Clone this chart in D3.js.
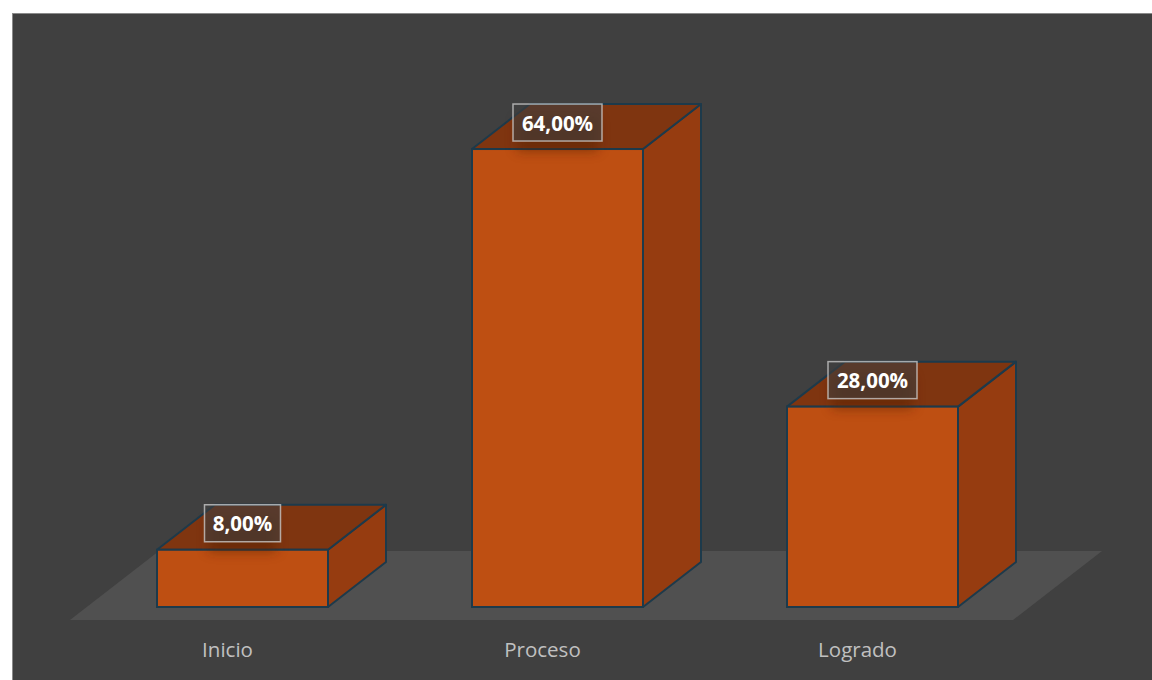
<!DOCTYPE html>
<html><head><meta charset="utf-8">
<script src="https://cdn.jsdelivr.net/npm/d3@7"></script>
<style>html,body{margin:0;padding:0;background:#fff;}svg{display:block;}</style>
</head><body>
<script>
const categories = ["Inicio", "Proceso", "Logrado"];
const values = [8, 64, 28];
const valueLabels = ["8,00%", "64,00%", "28,00%"];

const W = 1152, H = 680;
const svg = d3.select("body").append("svg").attr("width", W).attr("height", H);

const defs = svg.append("defs");
const blur = defs.append("filter").attr("id", "sh").attr("x", "-50%").attr("y", "-50%").attr("width", "200%").attr("height", "200%");
blur.append("feGaussianBlur").attr("stdDeviation", 6);

// chart background
svg.append("rect").attr("x", 12.5).attr("y", 13.5).attr("width", W - 12).attr("height", H - 13)
  .attr("fill", "#404040").attr("stroke", "#8a8a8a").attr("stroke-width", 1);

const x = d3.scaleBand().domain(categories).range([85, 1030])
  .paddingInner(144 / 315).paddingOuter(72 / 315);
const y = d3.scaleLinear().domain([0, 70]).range([607, 106.1]);

const dx = 58, dy = -45;        // bar depth
const fdx = 89, fdy = -69;      // floor depth
const floorY = 620, floorX0 = 70, floorX1 = 1013;

// floor
svg.append("path")
  .attr("d", `M${floorX0},${floorY} L${floorX1},${floorY} L${floorX1 + fdx},${floorY + fdy} L${floorX0 + fdx},${floorY + fdy} Z`)
  .attr("fill", "#505050");

const stroke = "#1d3a4b";
const g = svg.append("g");
categories.forEach((c, i) => {
  const x0 = x(c), x1 = x0 + x.bandwidth();
  const yb = y(0), yt = y(values[i]);
  const bg = g.append("g");
  // side
  bg.append("path")
    .attr("d", `M${x1},${yb} L${x1 + dx},${yb + dy} L${x1 + dx},${yt + dy} L${x1},${yt} Z`)
    .attr("fill", "#963c10").attr("stroke", stroke).attr("stroke-width", 2).attr("stroke-linejoin", "round");
  // top
  bg.append("path")
    .attr("d", `M${x0},${yt} L${x1},${yt} L${x1 + dx},${yt + dy} L${x0 + dx},${yt + dy} Z`)
    .attr("fill", "#7f3510").attr("stroke", stroke).attr("stroke-width", 2).attr("stroke-linejoin", "round");
  // front
  bg.append("rect").attr("x", x0).attr("y", yt).attr("width", x1 - x0).attr("height", yb - yt)
    .attr("fill", "#be4f12").attr("stroke", stroke).attr("stroke-width", 2);
});

// data labels
categories.forEach((c, i) => {
  const cx = x(c) + x.bandwidth() / 2;
  const top = y(values[i]) + dy;
  const w = valueLabels[i].length > 5 ? 89 : 76, h = 37;
  svg.append("rect").attr("x", cx - w / 2 + 4).attr("y", top + 14).attr("width", w - 8).attr("height", h - 4)
    .attr("fill", "#5a2000").attr("opacity", 0.55).attr("filter", "url(#sh)");
  svg.append("rect").attr("x", cx - w / 2).attr("y", top).attr("width", w).attr("height", h)
    .attr("fill", "#404040").attr("fill-opacity", 0.6)
    .attr("stroke", "#d0d0d0").attr("stroke-opacity", 0.75).attr("stroke-width", 1.5);
  svg.append("text").attr("x", cx).attr("y", top + 26.5)
    .attr("text-anchor", "middle").attr("font-family", "'Open Sans', sans-serif")
    .attr("font-weight", "bold").attr("font-size", 20.5).attr("fill", "#ffffff")
    .text(valueLabels[i]);
});

// category labels
categories.forEach((c) => {
  svg.append("text").attr("x", x(c) + x.bandwidth() / 2 - 15).attr("y", 657)
    .attr("text-anchor", "middle").attr("font-family", "'Open Sans', sans-serif")
    .attr("font-size", 20.5).attr("fill", "#c0c0c0").text(c);
});
</script>
</body></html>
